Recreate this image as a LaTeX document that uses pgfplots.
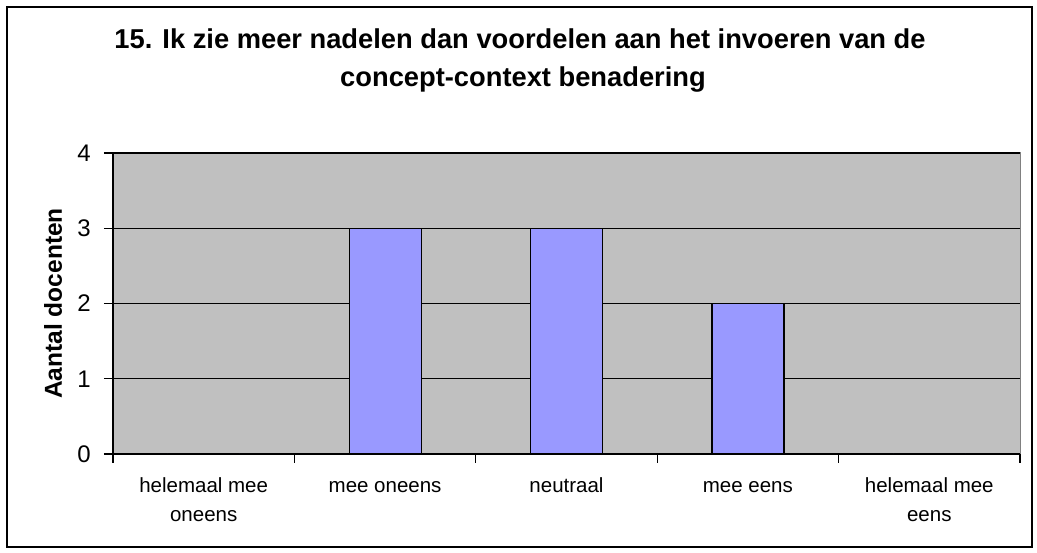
\documentclass[border=0pt]{standalone}
\usepackage{pgfplots}
\pgfplotsset{compat=1.18}
\usepackage{fontspec}
\setmainfont{Liberation Sans}
\definecolor{barblue}{HTML}{9999FF}
\definecolor{plotgray}{HTML}{C0C0C0}
\definecolor{edgegray}{HTML}{808080}
\begin{document}
\begin{tikzpicture}[x=1pt,y=1pt]
\useasboundingbox (0,0) rectangle (1037,553);
\fill[white] (0,0) rectangle (1037,553);
\draw[line width=2.2pt] (7,6) rectangle (1032,546);
\begin{axis}[
  at={(113pt,99pt)}, anchor=south west,
  width=907pt, height=301pt, scale only axis,
  xmin=0, xmax=5, ymin=0, ymax=4,
  axis background/.style={fill=plotgray, draw=edgegray, line width=1pt},
  axis x line*=bottom, axis y line*=left,
  axis line style={black, line width=1.3pt, -},
  xtick={0,...,5}, x tick label as interval,
  xticklabels={{\strut helemaal mee\\\strut oneens},{\strut mee oneens\\\strut},{\strut neutraal\\\strut},{\strut mee eens\\\strut},{\strut helemaal mee\\\strut eens}},
  xticklabel style={align=center, anchor=north, inner sep=0pt, font=\fontsize{20.5}{29}\selectfont, yshift=-9pt},
  ytick={0,...,4},
  /pgf/number format/assume math mode=true,
  yticklabel style={anchor=east, inner sep=0pt, xshift=-13pt, font=\fontsize{24}{28}\selectfont},
  tick align=outside, major tick length=9pt,
  tick style={black, line width=1.3pt},
  ymajorgrids, grid style={black, line width=1.2pt},
  ylabel={Aantal docenten},
  every axis y label/.style={at={(axis description cs:-0.066,0.5)}, rotate=90, anchor=center, font=\fontsize{24.5}{28}\selectfont\bfseries},
  ybar, bar width=72pt,
]
\addplot[fill=barblue, draw=black, line width=1.2pt] coordinates {(0.5,0) (1.5,3) (2.5,3) (3.5,2) (4.5,0)};
\end{axis}
\node[anchor=base, font=\fontsize{27.3}{32}\selectfont\bfseries] at (520,504) {15. Ik zie meer nadelen dan voordelen aan het invoeren van de};
\node[anchor=base, font=\fontsize{27.3}{32}\selectfont\bfseries] at (523,466) {concept-context benadering};
\end{tikzpicture}
\end{document}
